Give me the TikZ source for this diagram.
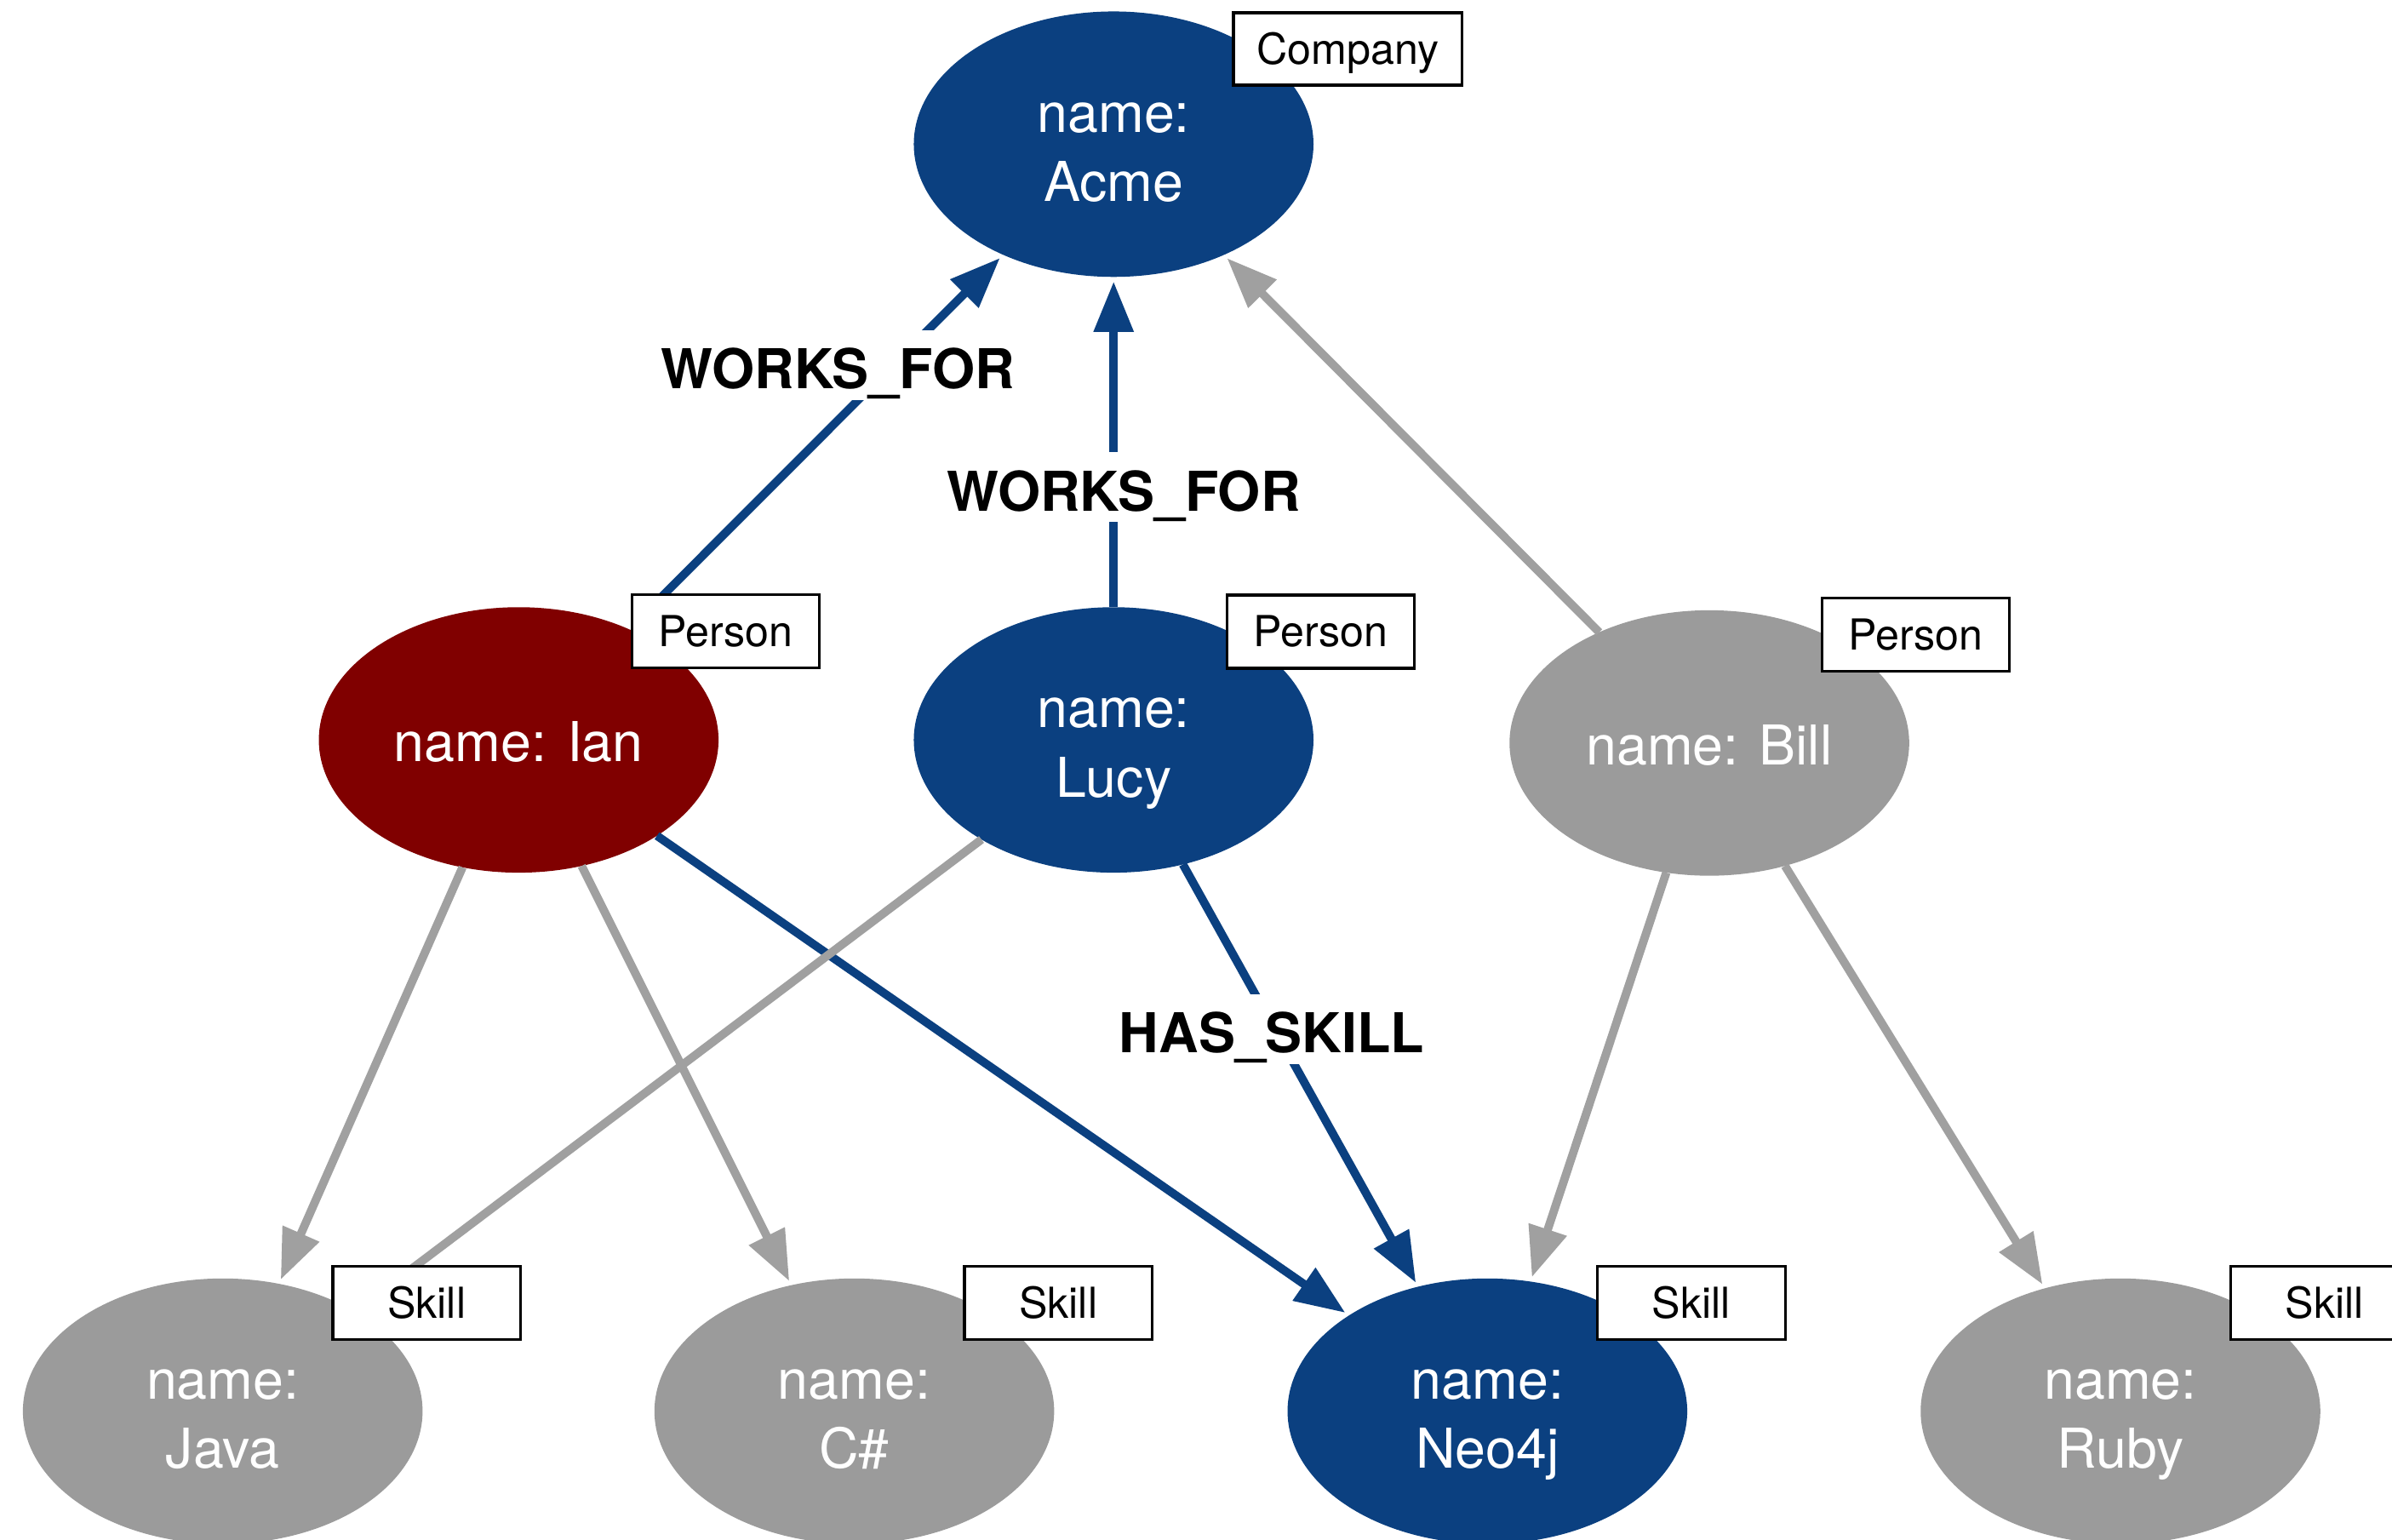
\documentclass[tikz,border=0pt]{standalone}
\usepackage{fontspec}
\setmainfont{TeX Gyre Heros}
\usetikzlibrary{arrows.meta,shapes.geometric,calc}
\definecolor{nblue}{RGB}{11,64,128}
\definecolor{nred}{RGB}{128,0,0}
\definecolor{ngray}{RGB}{155,155,155}
\definecolor{egray}{RGB}{160,160,160}
\begin{document}
\begin{tikzpicture}[x=1pt,y=-1pt,
  gnode/.style={ellipse,minimum width=262pt,minimum height=174pt,inner sep=0pt,outer sep=0pt},
  bluenode/.style={gnode,fill=nblue},
  rednode/.style={gnode,fill=nred},
  graynode/.style={gnode,fill=ngray},
  ntext/.style={anchor=base,text=white,inner sep=0pt,font=\fontsize{36}{44}\selectfont},
  tagbox/.style={draw=black,line width=1.8pt,fill=white,minimum width=123pt,minimum height=48pt,
     inner sep=0pt,text height=20pt,text depth=0pt,font=\fontsize{28}{34}\selectfont},
  rel/.style={-{Triangle[length=33pt,width=25pt]},line width=5.5pt,shorten >=3pt},
  brel/.style={rel,draw=nblue},
  grel/.style={rel,draw=egray},
  elabel/.style={anchor=base,fill=white,inner xsep=4pt,inner ysep=7.5pt,text height=31pt,text depth=0pt,
     font=\fontsize{36}{44}\selectfont\bfseries}
]
\useasboundingbox (0,0) rectangle (1568,1009.4);
\clip (0,0) rectangle (1568,1009.4);

% nodes
\node[bluenode] (acme) at (730,94.5) {};
\node[rednode] (ian) at (340,485) {};
\node[bluenode] (lucy) at (730,485) {};
\node[graynode] (bill) at (1120.5,487) {};
\node[graynode] (java) at (146,925) {};
\node[graynode] (csharp) at (560,925) {};
\node[bluenode] (neo) at (975,925) {};
\node[graynode] (ruby) at (1390,925) {};

% node texts
\node[ntext] (acme1) at ([yshift=8pt]acme.center) {name:};
\node[ntext] (acme2) at ([yshift=-37.5pt]acme.center) {Acme};
\node[ntext] (ian1) at ([yshift=-14.4pt]ian.center) {name: Ian};
\node[ntext] (lucy1) at ([yshift=8pt]lucy.center) {name:};
\node[ntext] (lucy2) at ([yshift=-37.5pt]lucy.center) {Lucy};
\node[ntext] (bill1) at ([yshift=-14.4pt]bill.center) {name: Bill};
\node[ntext] (java1) at ([yshift=8pt]java.center) {name:};
\node[ntext] (java2) at ([yshift=-37.5pt]java.center) {Java};
\node[ntext] (cs1) at ([yshift=8pt]csharp.center) {name:};
\node[ntext] (cs2) at ([yshift=-37.5pt]csharp.center) {C\#};
\node[ntext] (neo1) at ([yshift=8pt]neo.center) {name:};
\node[ntext] (neo2) at ([yshift=-37.5pt]neo.center) {Neo4j};
\node[ntext] (ruby1) at ([yshift=8pt]ruby.center) {name:};
\node[ntext] (ruby2) at ([yshift=-37.5pt]ruby.center) {Ruby};

% edges
\draw[brel,shorten <=6pt] (ian) -- (acme);
\draw[brel] (lucy) -- (acme);
\draw[grel] (bill) -- (acme);
\draw[grel] (ian) -- (java);
\draw[grel] (ian) -- (csharp);
\draw[brel] (ian) -- (neo);
\draw[grel,-] (lucy) -- (java);
\draw[brel] (lucy) -- (neo);
\draw[grel] (bill) -- (neo);
\draw[grel] (bill) -- (ruby);

% edge labels
\node[elabel] (wf1) at (549.2,254.9) {WORKS\_FOR};
\node[elabel] (wf2) at (736.6,334.8) {WORKS\_FOR};
\node[elabel] (hs) at (833.7,690) {HAS\_SKILL};

% tag boxes
\node[tagbox,minimum width=149.6pt,minimum height=47.4pt] (tcompany) at (883.4,32.1) {Company};
\node[tagbox] (tian) at (475.7,413.9) {Person};
\node[tagbox] (tlucy) at (865.7,414) {Person};
\node[tagbox] (tbill) at (1255.7,416) {Person};
\node[tagbox] (tjava) at (279.7,854) {Skill};
\node[tagbox] (tcs) at (693.7,854) {Skill};
\node[tagbox] (tneo) at (1108.7,854) {Skill};
\node[tagbox] (truby) at (1523.7,854) {Skill};
\end{tikzpicture}
\end{document}
